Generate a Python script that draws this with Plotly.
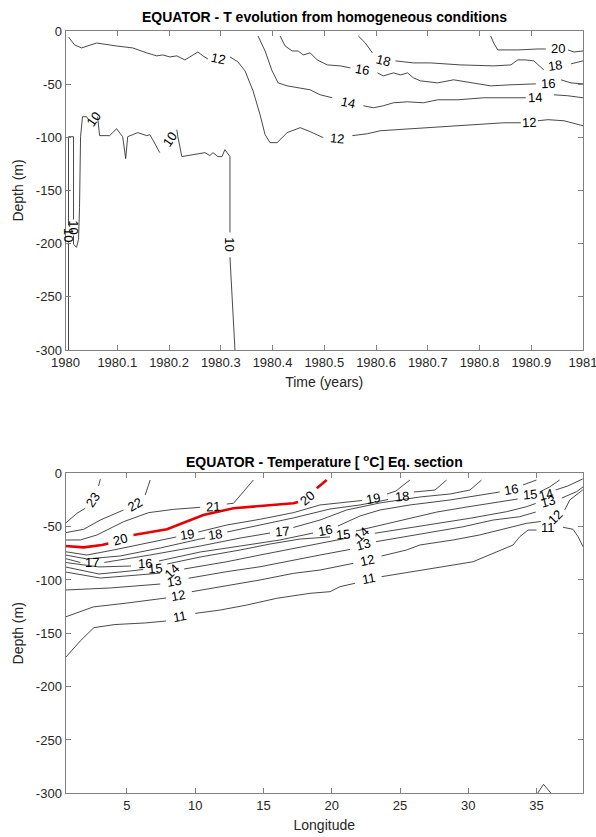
import plotly.graph_objects as go

# ---------------- TOP PANEL: T evolution (time vs depth) ----------------
top_xticks = [1980, 1980.1, 1980.2, 1980.3, 1980.4, 1980.5, 1980.6, 1980.7, 1980.8, 1980.9, 1981]
top_xtick_text = ["1980", "1980.1", "1980.2", "1980.3", "1980.4", "1980.5", "1980.6", "1980.7", "1980.8", "1980.9", "1981"]
depth_ticks = [0, -50, -100, -150, -200, -250, -300]
depth_tick_text = ["0", "-50", "-100", "-150", "-200", "-250", "-300"]

top_t_10 = [1980.0058, 1980.0058, None, 1980.0058, 1980.0058, 1980.0155, 1980.0155, None,
            1980.0155, 1980.0155, 1980.0213, 1980.0252, 1980.0271, 1980.0291, 1980.0329, 1980.0407, 1980.0446, None,
            1980.0620, 1980.0659, 1980.0853, 1980.0988, 1980.1105, 1980.1163, 1980.1202, 1980.1395, 1980.1570,
            1980.1628, 1980.1686, 1980.1822, None,
            1980.2151, 1980.2171, 1980.2248, 1980.2461, 1980.2694, 1980.2791, 1980.2849, 1980.2946, 1980.3023,
            1980.3081, 1980.3178, 1980.3178, None, 1980.3178, 1980.3236, 1980.3275]
top_d_10 = [-300, -198.8, None, -182.8, -99.4, -99.4, -177.2, None,
            -192.2, -200.6, -203.4, -195.9, -165.9, -99.4, -80.6, -80.6, -83.4, None,
            -80.6, -98.4, -98.4, -91.9, -99.4, -120.0, -99.4, -95.6, -98.4, -97.5, -102.2, -114.4, None,
            -92.8, -99.4, -118.1, -116.3, -114.4, -117.2, -114.4, -118.1, -118.1, -111.6, -118.1, -189.4, None,
            -212.8, -270.9, -300]

top_t_12 = [1980.0058, 1980.0174, 1980.0310, 1980.0601, 1980.0988, 1980.1298, 1980.1570, 1980.1764, 1980.1880,
            1980.2016, 1980.2151, 1980.2306, 1980.2403, 1980.2558, 1980.2655, 1980.2752, None,
            1980.3178, 1980.3333, 1980.3469, 1980.3624, 1980.3760, 1980.3857, 1980.3953, 1980.4089, 1980.4283,
            1980.4535, 1980.4729, 1980.4981, None,
            1980.5543, 1980.5833, 1980.6085, 1980.6415, 1980.6725, 1980.7054, 1980.7500, 1980.7965, 1980.8469,
            1980.8798, None, 1980.9128, 1980.9322, 1980.9632, 1980.9903, 1981.0]
top_d_12 = [-5.6, -13.1, -15.9, -11.3, -14.1, -15.9, -20.6, -23.4, -22.5, -24.4, -23.4, -27.2, -24.4, -19.7,
            -23.4, -26.3, None,
            -24.4, -29.1, -37.5, -56.3, -78.8, -97.5, -105.0, -105.0, -95.6, -90.9, -94.7, -100.3, None,
            -98.4, -96.6, -93.8, -92.8, -91.9, -90.9, -89.1, -88.1, -86.3, -86.3, None,
            -84.4, -83.4, -84.4, -88.1, -89.1]

top_t_14 = [1980.3721, 1980.3857, 1980.3992, 1980.4109, 1980.4283, 1980.4496, 1980.4729, 1980.4922, 1980.5155, None,
            1980.5756, 1980.5950, 1980.6143, 1980.6337, 1980.6609, 1980.6919, 1980.7190, 1980.7578, 1980.8081,
            1980.8605, 1980.8895, None, 1980.9438, 1980.9709, 1981.0]
top_d_14 = [-4.7, -18.8, -37.5, -48.8, -51.6, -53.4, -55.3, -60.0, -62.8, None,
            -70.3, -72.2, -70.3, -67.5, -66.6, -67.5, -64.7, -64.7, -62.8, -62.8, -62.8, None,
            -60.0, -60.9, -62.8]

top_t_16 = [1980.4147, 1980.4244, 1980.4380, 1980.4496, 1980.4593, 1980.4729, 1980.4864, 1980.5058, 1980.5310,
            1980.5504, None,
            1980.6027, 1980.6143, 1980.6337, 1980.6473, 1980.6609, 1980.6725, 1980.6860, 1980.7190, 1980.7500,
            1980.7829, 1980.8217, 1980.8605, 1980.9089, None, 1980.9574, 1980.9767, 1981.0]
top_d_16 = [-4.7, -14.1, -18.8, -18.8, -22.5, -20.6, -27.2, -31.9, -32.8, -34.7, None,
            -39.4, -42.2, -39.4, -41.3, -39.4, -44.1, -46.9, -48.8, -45.9, -48.8, -51.6, -50.6, -49.7, None,
            -45.9, -48.8, -49.7]

top_t_18 = [1980.5659, 1980.5795, 1980.5930, None,
            1980.6376, 1980.6725, 1980.7054, 1980.7636, 1980.8275, 1980.8605, 1980.8740, 1980.8895, 1980.9050,
            1980.9186, 1980.9244, None, 1980.9767, 1981.0]
top_d_18 = [-4.7, -11.3, -20.6, None,
            -28.1, -30.0, -30.0, -31.9, -32.8, -31.9, -27.2, -27.2, -28.1, -34.7, -36.6, None, -30.9, -28.1]

top_t_20 = [1980.8217, 1980.8275, 1980.8353, 1980.8740, 1980.9128, 1980.9283, None, 1980.9709, 1980.9826, 1981.0]
top_d_20 = [-4.7, -11.3, -17.8, -17.8, -16.9, -16.9, None, -17.8, -19.7, -18.8]

top_lab_text = ["12", "12", "12", "14", "14", "16", "16", "18", "18", "20", "10", "10", "10", "10", "10"]
top_lab_t = [1980.2946, 1980.5252, 1980.8953, 1980.5465, 1980.9070, 1980.5736, 1980.9322, 1980.6143,
             1980.9457, 1980.9516, 1980.0058, 1980.0165, 1980.0543, 1980.2016, 1980.3178]
top_lab_d = [-26.3, -101.3, -86.3, -67.5, -62.8, -36.6, -49.7, -28.1, -32.8, -16.9, -191.3, -184.7,
             -83.4, -102.2, -200.6]

# ---------------- BOTTOM PANEL: Equatorial section (longitude vs depth) ----------------
lon_ticks = [5, 10, 15, 20, 25, 30, 35]

bot_x_23 = [0.49, 1.34, 1.95, None, 2.92, 3.05]
bot_d_23 = [-46.9, -37.5, -32.8, None, -11.9, -5.6]
bot_x_22 = [0.49, 1.83, 3.05, 4.75, None, 6.34, 6.70]
bot_d_22 = [-55.7, -52.5, -43.8, -34.4, None, -20.3, -6.3]
bot_x_21 = [0.49, 1.58, 2.81, 4.75, 6.58, 8.41, 10.36, None, 12.32, 12.80, 13.53, 14.26]
bot_d_21 = [-62.5, -62.5, -57.8, -45.4, -36.9, -33.8, -31.9, None, -28.8, -28.1, -17.3, -6.3]
bot_x_20 = [0.49, 1.83, 3.17, 3.64, None, 5.48, 7.93, 10.60, 12.80, 17.19, 17.53, None, 18.90, 19.63]
bot_d_20 = [-68.2, -69.4, -67.2, -65.9, None, -57.8, -52.5, -39.1, -32.8, -28.1, -26.9, None, -14.1, -6.3]
bot_x_19 = [0.49, 2.07, 4.02, 6.46, 8.17, 8.61, None, 10.22, 12.32, 14.75, 17.19, 19.14, 21.58, 22.21, None,
            24.04, 24.70, 25.72]
bot_d_19 = [-73.5, -76.6, -71.9, -65.1, -60.9, -59.7, None, -55.0, -48.5, -43.1, -36.9, -29.7, -26.9, -25.5, None,
            -19.4, -16.6, -6.3]
bot_x_18 = [0.49, 2.07, 4.51, 7.44, 10.36, 10.73, None, 12.34, 14.75, 17.17, 19.87, 22.07, 24.12, None,
            26.02, 27.56, 28.41]
bot_d_18 = [-76.6, -80.3, -77.5, -70.0, -61.6, -60.7, None, -55.0, -48.5, -41.9, -33.5, -29.7, -24.6, None,
            -17.5, -15.7, -6.3]
bot_x_17 = [0.49, 1.58, None, 3.34, 6.70, 10.36, 13.29, 15.48, None, 17.19, 19.14, 21.09, 23.53, 26.46, 28.66,
            30.12, 30.97]
bot_d_17 = [-79.9, -83.6, None, -83.6, -76.6, -68.2, -60.7, -56.0, None, -50.8, -43.8, -34.4, -27.8, -22.2, -19.4,
            -15.7, -6.3]
bot_x_16 = [0.49, 2.95, 5.29, None, 7.34, 10.36, 13.29, 16.21, 18.63, None, 20.46, 22.07, 23.53, 25.72, 28.66,
            31.57, 32.30, None, 34.01, 34.99]
bot_d_16 = [-83.6, -87.8, -86.9, None, -82.2, -73.8, -68.2, -62.5, -56.0, None, -49.4, -40.0, -34.4, -29.7, -25.0,
            -19.4, -17.5, None, -10.9, -6.3]
bot_x_15 = [0.49, 2.95, 5.24, 6.19, None, 7.95, 10.36, 13.29, 15.48, 17.68, 19.87, None, 21.77, 23.31, 25.21,
            26.46, 27.70, 29.89, 32.30, 33.62, None, 35.23, 35.96, 36.69]
bot_d_15 = [-87.8, -94.4, -91.6, -90.2, None, -85.0, -78.5, -71.9, -66.3, -61.6, -59.7, None, -54.1, -49.4, -43.8,
            -40.0, -36.3, -31.6, -27.0, -24.1, None, -17.5, -12.8, -6.3]
bot_x_14 = [0.49, 3.05, 6.70, 7.44, None, 9.19, 12.32, 14.75, 17.19, 19.14, 21.34, None, 23.16, 25.48, 27.92,
            30.11, 32.80, 34.26, 34.94, None, 36.40, 37.28, 38.38]
bot_d_14 = [-92.5, -98.2, -94.4, -93.5, None, -89.7, -82.9, -76.6, -70.3, -65.3, -60.2, None, -56.2, -51.6, -46.9,
            -42.2, -36.0, -31.3, -28.3, None, -15.6, -11.9, -5.3]
bot_x_13 = [0.49, 3.78, 7.44, None, 9.51, 12.32, 14.75, 17.19, 19.14, 21.34, None, 23.24, 25.48, 27.43, 29.62,
            31.82, 33.77, 34.94, None, 36.84, 37.92, 38.40]
bot_d_13 = [-109.4, -107.5, -103.8, None, -98.4, -92.2, -87.6, -81.3, -76.6, -71.4, None, -64.1, -59.4, -54.8,
            -50.1, -43.8, -40.7, -36.3, None, -23.2, -17.3, -12.8]
bot_x_12 = [0.49, 1.58, 2.53, 5.02, 7.66, 7.87, None, 9.75, 12.32, 14.75, 17.19, 19.14, 21.58, None, 23.65, 25.48,
            26.46, 28.89, 30.84, 32.31, 34.26, 35.31, None, 37.06, 37.43, 38.38]
bot_d_12 = [-134.7, -129.8, -125.3, -121.6, -117.8, -116.9, None, -111.0, -105.7, -100.0, -93.8, -90.7, -84.4, None,
            -77.5, -71.9, -67.2, -62.5, -57.8, -53.2, -46.9, -45.2, None, -34.4, -25.0, -15.6]
bot_x_11 = [0.54, 1.58, 2.58, 4.11, 6.34, 7.87, None, 10.0, 11.83, 13.78, 15.97, 18.41, 19.87, 20.60, 21.70, None,
            23.65, 25.23, 27.19, 28.89, 30.35, 31.82, 33.28, 33.77, 34.38, 34.99, None, 36.94, 37.67, 38.04, 38.40]
bot_d_11 = [-172.2, -157.2, -144.7, -141.8, -140.3, -138.5, None, -131.3, -128.2, -123.5, -117.2, -112.5, -111.0,
            -106.3, -103.1, None, -96.9, -93.8, -90.0, -86.0, -82.9, -75.0, -67.2, -59.4, -53.2, -53.2, None,
            -50.6, -52.5, -59.4, -68.8]
bot_x_10 = [35.07, 35.51, 36.06]
bot_d_10 = [-300, -291.6, -300]

bot_lab_text = ["23", "22", "21", "20", "20", "19", "19", "18", "18", "17", "17", "16", "16", "16",
                "15", "15", "15", "14", "14", "14", "13", "13", "13", "12", "12", "12", "11", "11", "11"]
bot_lab_x = [2.53, 5.61, 11.33, 4.51, 18.17, 9.39, 23.04, 11.46, 25.12, 2.44, 16.34, 6.32, 19.51, 33.16,
             7.07, 20.84, 34.50, 8.29, 22.19, 35.72, 8.41, 22.31, 35.84, 8.77, 22.56, 36.33, 8.90, 22.75, 35.84]
bot_lab_d = [-25.0, -29.7, -31.3, -61.9, -23.4, -57.8, -23.4, -57.8, -21.9, -83.8, -54.1, -85.0, -53.2, -15.0,
             -89.1, -57.8, -20.3, -92.2, -57.8, -20.3, -101.6, -66.3, -26.6, -114.1, -81.3, -41.0, -134.3, -98.4,
             -50.6]

# ---------------- styling (not data) ----------------
top_lab_angle = [12, 5, -3, 12, -3, 10, -3, 15, -8, 0, 90, 90, -55, -55, 90]
bot_lab_angle = [-55, -30, -3, -15, -40, -8, -10, -8, -5, 0, -5, -3, -12, -10,
                 -5, -5, -5, -45, -45, -15, -10, -15, -15, -10, -12, -45, -10, -10, 0]

FONT = "Liberation Sans"
LINE_COLOR = "#1a1a1a"
fig = go.Figure()


def add_line(x, y, xa, ya, color=LINE_COLOR, width=0.8):
    fig.add_trace(go.Scatter(x=x, y=y, mode="lines", xaxis=xa, yaxis=ya, hoverinfo="skip",
                             line=dict(color=color, width=width), showlegend=False, connectgaps=False))


for tx, dy in [(top_t_10, top_d_10), (top_t_12, top_d_12), (top_t_14, top_d_14),
               (top_t_16, top_d_16), (top_t_18, top_d_18), (top_t_20, top_d_20)]:
    add_line(tx, dy, "x", "y")

for bx, bd in [(bot_x_23, bot_d_23), (bot_x_22, bot_d_22), (bot_x_21, bot_d_21), (bot_x_19, bot_d_19),
               (bot_x_18, bot_d_18), (bot_x_17, bot_d_17), (bot_x_16, bot_d_16), (bot_x_15, bot_d_15),
               (bot_x_14, bot_d_14), (bot_x_13, bot_d_13), (bot_x_12, bot_d_12), (bot_x_11, bot_d_11),
               (bot_x_10, bot_d_10)]:
    add_line(bx, bd, "x2", "y2")
add_line(bot_x_20, bot_d_20, "x2", "y2", color="#e60000", width=2.6)

annotations = []
for txt, xv, yv, ang in zip(top_lab_text, top_lab_t, top_lab_d, top_lab_angle):
    annotations.append(dict(x=xv, y=yv, xref="x", yref="y", text=txt, showarrow=False, textangle=ang,
                            font=dict(family=FONT, size=13, color="#000")))
for txt, xv, yv, ang in zip(bot_lab_text, bot_lab_x, bot_lab_d, bot_lab_angle):
    annotations.append(dict(x=xv, y=yv, xref="x2", yref="y2", text=txt, showarrow=False, textangle=ang,
                            font=dict(family=FONT, size=13, color="#000")))

annotations.append(dict(x=0.5437, y=1 - 17 / 837, xref="paper", yref="paper", showarrow=False,
                        xanchor="center", yanchor="middle",
                        text="<b>EQUATOR - T evolution from homogeneous conditions</b>",
                        font=dict(family=FONT, size=14, color="#000")))
annotations.append(dict(x=0.5437, y=1 - 461 / 837, xref="paper", yref="paper", showarrow=False,
                        xanchor="center", yanchor="middle",
                        text="<b>EQUATOR - Temperature [ <sup>o</sup>C] Eq. section</b>",
                        font=dict(family=FONT, size=14, color="#000")))

axis_common = dict(showline=True, linecolor="#808080", linewidth=1, mirror="ticks", ticks="inside",
                   ticklen=5, tickcolor="#808080", showgrid=False, zeroline=False, automargin=False,
                   ticklabeloverflow="allow",
                   tickfont=dict(family=FONT, size=13, color="#262626"))
title_font = dict(family=FONT, size=14, color="#262626")

xdom = [65.5 / 596, 583 / 596]
fig.update_layout(
    width=596, height=837, margin=dict(l=0, r=0, t=0, b=0, autoexpand=False),
    paper_bgcolor="white", plot_bgcolor="white",
    xaxis=dict(domain=xdom, range=[1980 - 1e-6, 1981 + 1e-6], tickvals=top_xticks, ticktext=top_xtick_text,
               title=dict(text="Time (years)", font=title_font, standoff=8), anchor="y", **axis_common),
    yaxis=dict(domain=[1 - 350 / 837, 1 - 31 / 837], range=[-300, 0], tickvals=depth_ticks,
               ticktext=depth_tick_text, title=dict(text="Depth (m)", font=title_font, standoff=8),
               anchor="x", **axis_common),
    xaxis2=dict(domain=xdom, range=[0.5, 38.4], tickvals=lon_ticks,
                title=dict(text="Longitude", font=title_font, standoff=8), anchor="y2", **axis_common),
    yaxis2=dict(domain=[1 - 793.3 / 837, 1 - 473.3 / 837], range=[-300, 0], tickvals=depth_ticks,
                ticktext=depth_tick_text, title=dict(text="Depth (m)", font=title_font, standoff=8),
                anchor="x2", **axis_common),
    annotations=annotations,
)

fig.write_html("out.html")
